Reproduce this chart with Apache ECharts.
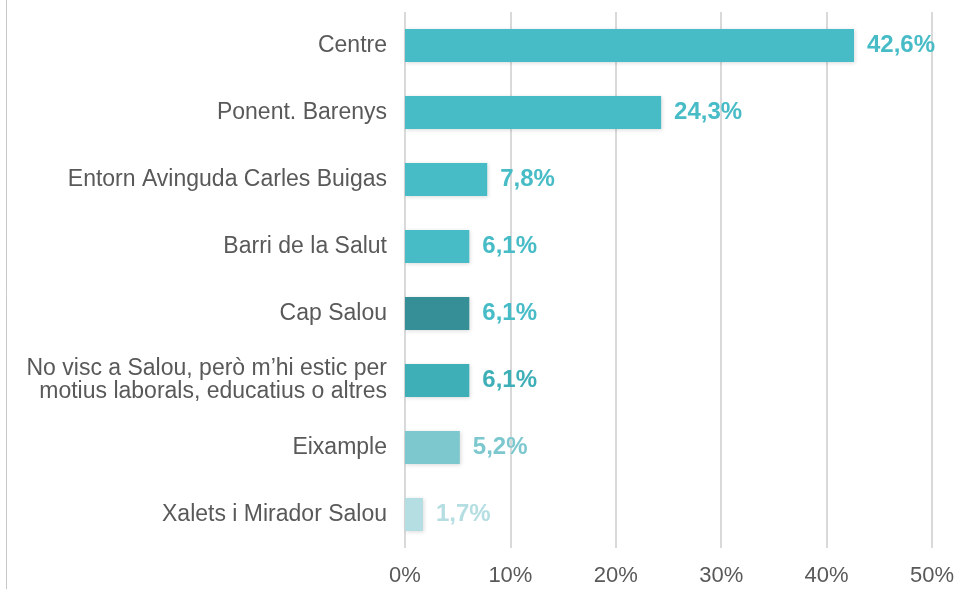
<!DOCTYPE html>
<html><head><meta charset="utf-8">
<script src="https://cdn.jsdelivr.net/npm/echarts@6/dist/echarts.min.js"></script>
<style>html,body{margin:0;padding:0;background:#fff}#c{width:960px;height:589px}</style>
</head><body><div id="c"></div>
<script>
const categories = ["Centre","Ponent. Barenys","Entorn Avinguda Carles Buigas","Barri de la Salut","Cap Salou","No visc a Salou, però m’hi estic per\nmotius laborals, educatius o altres","Eixample","Xalets i Mirador Salou"];
const values = [42.6,24.3,7.8,6.1,6.1,6.1,5.2,1.7];
const barColors = ["#47BCC7","#47BCC7","#47BCC7","#47BCC7","#368F96","#3FAFB7","#7CC8CE","#B5DEE2"];
const labelColors = ["#47BCC7","#47BCC7","#47BCC7","#47BCC7","#47BCC7","#3FAFB7","#7CC8CE","#B5DEE2"];
const ticks = [0,10,20,30,40,50];

const chart = echarts.init(document.getElementById('c'));
chart.setOption({
  animation:false,
  graphic:[{type:'line',shape:{x1:6.5,y1:0,x2:6.5,y2:589},style:{stroke:'#c8c8c8',lineWidth:1}}],
  grid:{left:405,right:28,top:12,bottom:41,containLabel:false},
  xAxis:{type:'value',min:ticks[0],max:ticks[ticks.length-1],interval:10,
    axisLine:{show:false},axisTick:{show:false},
    splitLine:{lineStyle:{color:'#d9d9d9',width:2}},
    axisLabel:{formatter:v=>v+'%',color:'#595959',fontSize:22,fontFamily:'Liberation Sans',margin:17}},
  yAxis:{type:'category',inverse:true,data:categories,
    axisLine:{show:false},axisTick:{show:false},
    axisLabel:{color:'#595959',fontSize:23,fontFamily:'Liberation Sans',margin:18,lineHeight:23,align:'right'}},
  series:[{type:'bar',barWidth:33,
    data:values.map((v,i)=>({value:v,itemStyle:{color:barColors[i],shadowColor:'rgba(0,0,0,0.15)',shadowBlur:4,shadowOffsetX:1,shadowOffsetY:1},
      label:{color:labelColors[i]}})),
    label:{show:true,position:'right',distance:13,fontSize:24,fontWeight:'bold',fontFamily:'Liberation Sans',
      formatter:p=>p.value.toFixed(1).replace('.',',')+'%'}}]
});
</script></body></html>
